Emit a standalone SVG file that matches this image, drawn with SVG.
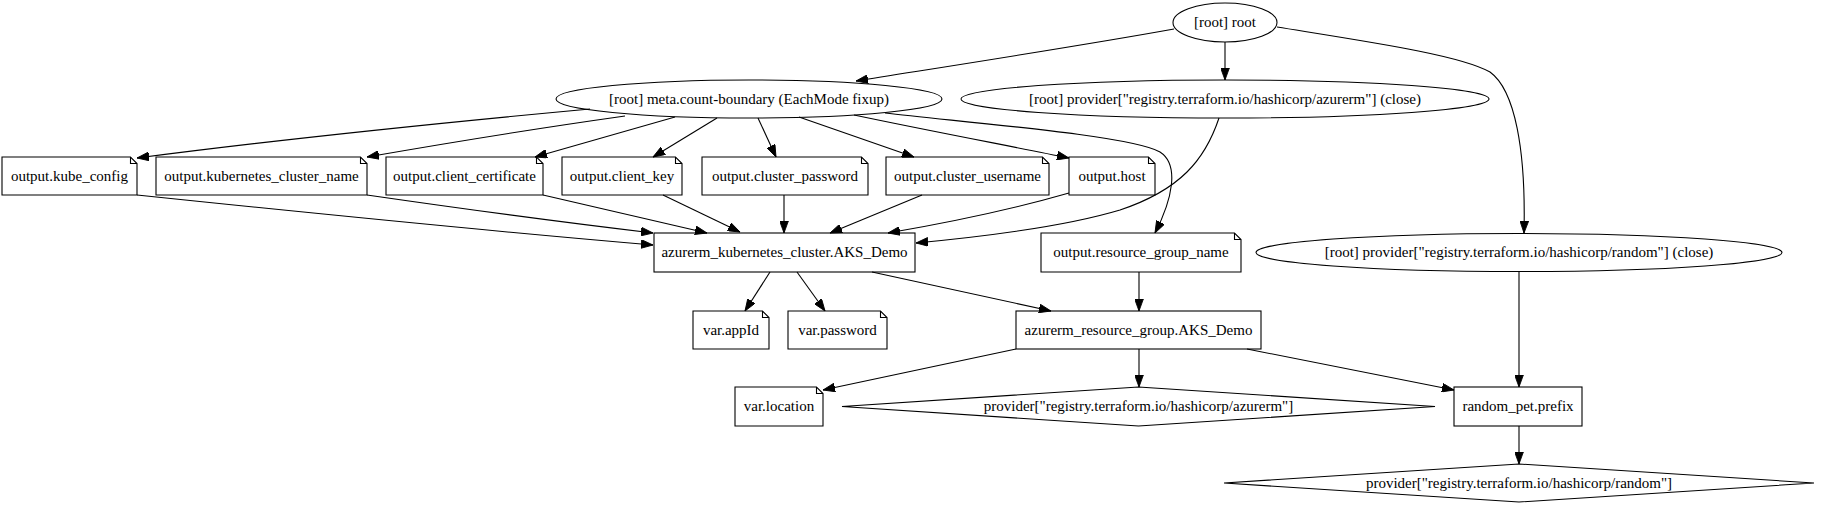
<svg xmlns="http://www.w3.org/2000/svg" width="1836" height="519" viewBox="0 0 1836 519">
<style>
.n{fill:none;stroke:#000;stroke-width:1.1}
.t{font-family:"Liberation Serif","Times New Roman",serif;font-size:15px;fill:#000;text-anchor:middle}
.e{fill:none;stroke:#000;stroke-width:1.1;marker-end:url(#ah)}
</style>
<defs>
<marker id="ah" markerUnits="userSpaceOnUse" markerWidth="12" markerHeight="9" viewBox="0 0 11 8" refX="11" refY="4" orient="auto">
<path d="M0,0 L11,4 L0,8 z" fill="#000" stroke="#000" stroke-width="0.8"/>
</marker>
</defs>
<rect width="1836" height="519" fill="#fff"/>
<g id="edges">
<path class="e" d="M1174,29 C1080,46 950,66 856,81"/>
<path class="e" d="M1225,42 L1225,80"/>
<path class="e" d="M1277,27 C1370,42 1460,55 1490,72 C1515,90 1526,150 1524,233"/>
<path class="e" d="M590,109 C450,122 260,142 137,158"/>
<path class="e" d="M625,116 C540,128 430,146 367,157"/>
<path class="e" d="M675,117 C620,133 570,147 535,157"/>
<path class="e" d="M717,118 L653,157"/>
<path class="e" d="M758,118 L776,157"/>
<path class="e" d="M799,117 L914,157"/>
<path class="e" d="M854,115 C930,131 1010,146 1069,158"/>
<path class="e" d="M885,113 C960,122 1130,135 1160,152 C1180,165 1172,200 1155,233"/>
<path class="e" d="M1219,118 C1205,160 1180,190 1120,210 C1060,228 980,237 916,243"/>
<path class="e" d="M137,195 C300,212 500,232 653,245"/>
<path class="e" d="M367,195 C450,207 560,222 653,233"/>
<path class="e" d="M543,195 L707,233"/>
<path class="e" d="M663,195 L740,232"/>
<path class="e" d="M784,195 L784,233"/>
<path class="e" d="M922,195 L830,233"/>
<path class="e" d="M1069,193 C1010,210 940,224 888,233"/>
<path class="e" d="M770,272 L745,311"/>
<path class="e" d="M797,272 L825,311"/>
<path class="e" d="M872,272 L1051,311"/>
<path class="e" d="M1139,272 L1139,311"/>
<path class="e" d="M1016,349 L823,390"/>
<path class="e" d="M1139,349 L1139,387"/>
<path class="e" d="M1247,349 L1454,390"/>
<path class="e" d="M1519,271.5 L1519,387"/>
<path class="e" d="M1519,426 L1519,464"/>
</g>
<g id="root">
<ellipse class="n" cx="1225" cy="22.5" rx="52" ry="19.5"/>
<text class="t" x="1225" y="27">[root] root</text>
</g>
<g id="meta">
<ellipse class="n" cx="749" cy="99" rx="193" ry="19"/>
<text class="t" x="749" y="103.5">[root] meta.count-boundary (EachMode fixup)</text>
</g>
<g id="provider_azurerm_close">
<ellipse class="n" cx="1225" cy="99" rx="264" ry="19"/>
<text class="t" x="1225" y="103.5">[root] provider["registry.terraform.io/hashicorp/azurerm"] (close)</text>
</g>
<g id="provider_random_close">
<ellipse class="n" cx="1519" cy="252.5" rx="263" ry="19"/>
<text class="t" x="1519" y="257">[root] provider["registry.terraform.io/hashicorp/random"] (close)</text>
</g>
<g id="output_kube_config">
<path class="n" d="M2,157 H130.5 L137,163.5 V195 H2 Z M130.5,157 V163.5 H137"/>
<text class="t" x="69.5" y="180.5">output.kube_config</text>
</g>
<g id="output_kubernetes_cluster_name">
<path class="n" d="M156,157 H360.5 L367,163.5 V195 H156 Z M360.5,157 V163.5 H367"/>
<text class="t" x="261.5" y="180.5">output.kubernetes_cluster_name</text>
</g>
<g id="output_client_certificate">
<path class="n" d="M386,157 H536.5 L543,163.5 V195 H386 Z M536.5,157 V163.5 H543"/>
<text class="t" x="464.5" y="180.5">output.client_certificate</text>
</g>
<g id="output_client_key">
<path class="n" d="M562,157 H675.5 L682,163.5 V195 H562 Z M675.5,157 V163.5 H682"/>
<text class="t" x="622" y="180.5">output.client_key</text>
</g>
<g id="output_cluster_password">
<path class="n" d="M702,157 H861.5 L868,163.5 V195 H702 Z M861.5,157 V163.5 H868"/>
<text class="t" x="785" y="180.5">output.cluster_password</text>
</g>
<g id="output_cluster_username">
<path class="n" d="M886,157 H1042.5 L1049,163.5 V195 H886 Z M1042.5,157 V163.5 H1049"/>
<text class="t" x="967.5" y="180.5">output.cluster_username</text>
</g>
<g id="output_host">
<path class="n" d="M1069,157 H1148.5 L1155,163.5 V195 H1069 Z M1148.5,157 V163.5 H1155"/>
<text class="t" x="1112" y="180.5">output.host</text>
</g>
<g id="azurerm_kubernetes_cluster">
<rect class="n" x="654" y="233" width="261" height="39"/>
<text class="t" x="784.5" y="257">azurerm_kubernetes_cluster.AKS_Demo</text>
</g>
<g id="output_resource_group_name">
<path class="n" d="M1041,233 H1234.5 L1241,239.5 V272 H1041 Z M1234.5,233 V239.5 H1241"/>
<text class="t" x="1141" y="257">output.resource_group_name</text>
</g>
<g id="var_appId">
<path class="n" d="M693,311 H762.5 L769,317.5 V349 H693 Z M762.5,311 V317.5 H769"/>
<text class="t" x="731" y="334.5">var.appId</text>
</g>
<g id="var_password">
<path class="n" d="M788,311 H880.5 L887,317.5 V349 H788 Z M880.5,311 V317.5 H887"/>
<text class="t" x="837.5" y="334.5">var.password</text>
</g>
<g id="azurerm_resource_group">
<rect class="n" x="1016" y="311" width="245" height="38"/>
<text class="t" x="1138.5" y="334.5">azurerm_resource_group.AKS_Demo</text>
</g>
<g id="var_location">
<path class="n" d="M735,387 H816.5 L823,393.5 V426 H735 Z M816.5,387 V393.5 H823"/>
<text class="t" x="779" y="411">var.location</text>
</g>
<g id="provider_azurerm">
<polygon class="n" points="1138.5,387 1435,406.5 1138.5,426 842,406.5"/>
<text class="t" x="1138.5" y="411">provider["registry.terraform.io/hashicorp/azurerm"]</text>
</g>
<g id="random_pet_prefix">
<rect class="n" x="1454" y="387" width="128" height="39"/>
<text class="t" x="1518" y="411">random_pet.prefix</text>
</g>
<g id="provider_random">
<polygon class="n" points="1519,464 1814,483 1519,502 1224,483"/>
<text class="t" x="1519" y="487.5">provider["registry.terraform.io/hashicorp/random"]</text>
</g>
</svg>
